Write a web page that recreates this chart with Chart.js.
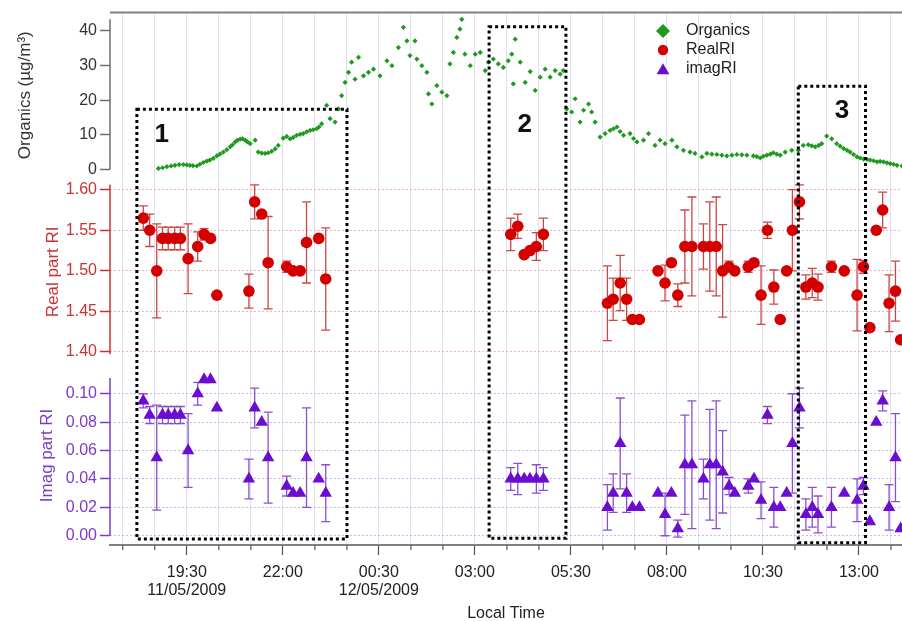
<!DOCTYPE html>
<html>
<head>
<meta charset="utf-8">
<title>Organics and refractive index</title>
<script src="https://cdn.jsdelivr.net/npm/chart.js@4.4.0/dist/chart.umd.min.js"></script>
<style>
  html, body { margin: 0; padding: 0; background: #fff; }
  #wrap { width: 902px; height: 621px; }
</style>
</head>
<body>
<div id="wrap"><canvas id="riChart" width="902" height="621"></canvas></div>
<script>
// ---- data ----
// organics time is in hours from 00:00 on 11/05/2009 (values > 24 are the next day)
const orgTime = [
  18.76, 18.87, 18.98, 19.09, 19.19, 19.30, 19.41, 19.50, 19.58, 19.66, 19.76, 19.84, 19.93, 20.02, 20.10, 20.19, 20.28, 20.36, 20.45, 20.54,
  20.63, 20.69, 20.76, 20.82, 20.89, 20.95, 21.02, 21.08, 21.15, 21.28, 21.36, 21.45, 21.54, 21.62, 21.71, 21.80, 21.88, 22.01, 22.10, 22.19,
  22.27, 22.36, 22.45, 22.53, 22.62, 22.71, 22.79, 22.88, 22.94, 23.01, 23.14, 23.23, 23.36, 23.45, 23.53, 23.62, 23.71, 23.79, 23.88, 23.97,
  24.10, 24.23, 24.36, 24.53, 24.71, 24.84, 25.01, 25.14, 25.23, 25.31, 25.44, 25.49, 25.62, 25.75, 25.79, 25.88, 26.01, 26.14, 26.27, 26.35,
  26.44, 26.53, 26.61, 26.66, 26.74, 26.88, 27.01, 27.14, 27.27, 27.35, 27.48, 27.61, 27.74, 27.87, 27.96, 28.00, 28.05, 28.18, 28.31, 28.44,
  28.57, 28.70, 28.83, 28.96, 29.09, 29.22, 29.30, 29.39, 29.52, 29.61, 29.74, 29.83, 29.96, 30.04, 30.13, 30.26, 30.39, 30.52, 30.61, 30.70,
  30.78, 30.87, 31.04, 31.13, 31.22, 31.39, 31.52, 31.69, 31.82, 31.95, 32.13, 32.26, 32.43, 32.60, 32.73, 32.91, 33.04, 33.17, 33.30, 33.43,
  33.56, 33.69, 33.82, 33.95, 34.08, 34.25, 34.34, 34.43, 34.51, 34.60, 34.69, 34.77, 34.86, 34.95, 35.08, 35.25, 35.42, 35.55, 35.68, 35.77,
  35.86, 35.95, 36.03, 36.16, 36.29, 36.42, 36.51, 36.60, 36.69, 36.77, 36.86, 36.95, 37.03, 37.12, 37.21, 37.29, 37.38, 37.47, 37.55, 37.64,
  37.73, 37.81, 37.90, 37.99, 38.12
];
const orgValue = [
  0.4, 0.6, 0.9, 1.1, 1.3, 1.5, 1.5, 1.4, 1.3, 1.2, 1.1, 1.6, 2.1, 2.5, 2.8, 3.3, 4.0, 4.5, 5.1, 5.8,
  6.6, 7.2, 8.0, 8.5, 8.8, 8.9, 8.5, 8.0, 7.5, 8.5, 5.1, 4.8, 4.7, 4.9, 5.3, 6.0, 7.0, 9.1, 9.6, 8.9,
  9.3, 9.9, 10.2, 10.4, 10.9, 11.3, 11.5, 11.8, 12.3, 13.2, 18.5, 14.7, 13.7, 17.5, 21.3, 25.1, 28.0, 30.9, 26.0, 32.3,
  27.0, 28.0, 28.9, 27.0, 31.3, 29.9, 35.1, 40.9, 37.0, 32.8, 37.0, 31.8, 29.9, 28.0, 21.8, 18.9, 24.2, 22.3, 21.3, 30.4,
  33.7, 38.0, 40.4, 43.2, 33.2, 29.9, 33.2, 33.7, 28.5, 30.9, 31.8, 30.4, 29.4, 31.3, 33.2, 24.7, 37.5, 30.9, 25.1, 28.2,
  22.8, 26.6, 28.9, 26.6, 28.5, 27.5, 28.5, 17.5, 16.6, 20.4, 13.7, 17.1, 18.9, 16.6, 13.7, 9.4, 10.4, 11.3, 11.8, 12.3,
  11.0, 9.9, 10.4, 9.0, 8.0, 8.5, 10.4, 7.0, 8.5, 7.5, 8.5, 6.6, 5.6, 5.1, 4.7, 3.7, 4.7, 4.5, 4.4, 4.2,
  4.0, 4.2, 4.4, 4.3, 4.2, 4.0, 3.8, 3.4, 3.9, 4.2, 4.5, 4.9, 4.5, 4.2, 5.1, 5.6, 5.6, 7.0, 7.2, 6.9,
  6.6, 7.0, 7.5, 9.7, 8.9, 7.5, 6.8, 6.1, 5.6, 5.1, 4.4, 3.7, 3.4, 3.1, 3.0, 2.8, 2.6, 2.3, 2.4, 2.3,
  2.0, 1.8, 1.6, 1.3, 1.1
];

// refractive index retrievals (local time, 11/05 evening then 12/05)
const riTime = [
  '18:22', '18:32', '18:43', '18:52', '19:01', '19:11', '19:20', '19:32', '19:47', '19:57', '20:07',
  '20:17', '21:07', '21:16', '21:27', '21:37', '22:06', '22:16', '22:27', '22:37', '22:56', '23:07',
  '03:56', '04:07', '04:17', '04:26', '04:36', '04:47',
  '06:27', '06:36', '06:47', '06:57', '07:06', '07:17', '07:46', '07:57', '08:07', '08:17',
  '08:28', '08:39', '08:57', '09:07', '09:17', '09:27', '09:37', '09:46', '10:07', '10:16',
  '10:27', '10:37', '10:47', '10:57', '11:07', '11:16', '11:27', '11:37', '11:47', '11:56',
  '12:17', '12:37', '12:57', '13:07', '13:17', '13:27', '13:37', '13:47', '13:57', '14:05'
];
const realRI = [
  1.565, 1.55, 1.50, 1.54, 1.54, 1.54, 1.54, 1.515, 1.53, 1.545, 1.54,
  1.47, 1.475, 1.585, 1.57, 1.51, 1.505, 1.50, 1.50, 1.535, 1.54, 1.49,
  1.545, 1.555, 1.52, 1.525, 1.53, 1.545,
  1.46, 1.465, 1.485, 1.465, 1.44, 1.44, 1.50, 1.485, 1.51, 1.47,
  1.53, 1.53, 1.53, 1.53, 1.53, 1.50, 1.505, 1.50, 1.505, 1.51,
  1.47, 1.55, 1.48, 1.44, 1.50, 1.55, 1.585, 1.48, 1.485, 1.48,
  1.505, 1.50, 1.47, 1.505, 1.43, 1.55, 1.575, 1.46, 1.475, 1.415
];
const realErr = [
  0.015, 0.02, 0.058, 0.014, 0.014, 0.014, 0.014, 0.043, 0.018, 0.007, 0,
  0, 0.021, 0.021, 0, 0.057, 0.007, 0, 0, 0.05, 0, 0.063,
  0.02, 0.015, 0, 0, 0.017, 0.02,
  0.046, 0.026, 0.034, 0.026, 0, 0, 0, 0.022, 0, 0.014,
  0.045, 0.061, 0.028, 0.055, 0.061, 0.057, 0.007, 0, 0.007, 0,
  0.036, 0.01, 0.021, 0, 0, 0.05, 0.021, 0.015, 0.018, 0.016,
  0.007, 0, 0.044, 0.008, 0, 0, 0.022, 0.035, 0.037, 0
];
const imagRI = [
  0.095, 0.085, 0.055, 0.085, 0.085, 0.085, 0.085, 0.06, 0.10, 0.11, 0.11,
  0.09, 0.04, 0.09, 0.08, 0.055, 0.035, 0.03, 0.03, 0.055, 0.04, 0.03,
  0.04, 0.04, 0.04, 0.04, 0.04, 0.04,
  0.02, 0.03, 0.065, 0.03, 0.02, 0.02, 0.03, 0.015, 0.03, 0.005,
  0.05, 0.05, 0.04, 0.05, 0.05, 0.045, 0.035, 0.03, 0.035, 0.04,
  0.025, 0.085, 0.02, 0.02, 0.03, 0.065, 0.09, 0.015, 0.02, 0.015,
  0.02, 0.03, 0.025, 0.035, 0.01, 0.08, 0.095, 0.02, 0.055, 0.005
];
const imagErr = [
  0.005, 0.006, 0.037, 0.006, 0.006, 0.006, 0.006, 0.026, 0.008, 0, 0,
  0, 0.014, 0.014, 0, 0.032, 0.007, 0, 0, 0.035, 0, 0.02,
  0.008, 0.011, 0, 0, 0.01, 0.008,
  0.016, 0.0135, 0.032, 0.0135, 0, 0, 0, 0.015, 0, 0.006,
  0.035, 0.045, 0.014, 0.039, 0.045, 0.029, 0.006, 0, 0.005, 0,
  0.013, 0.006, 0.014, 0, 0, 0.035, 0.014, 0.011, 0.014, 0.013,
  0.014, 0, 0.015, 0.006, 0, 0, 0.007, 0.016, 0.031, 0
];

// axis ticks
const xMajorHours = [19.5, 22, 24.5, 27, 29.5, 32, 34.5, 37];
const xMajorLabels = [['19:30', '11/05/2009'], '22:00', ['00:30', '12/05/2009'], '03:00', '05:30', '08:00', '10:30', '13:00'];
const orgTicks = [0, 10, 20, 30, 40];
const realTicks = [1.40, 1.45, 1.50, 1.55, 1.60];
const imagTicks = [0, 0.02, 0.04, 0.06, 0.08, 0.10];

// numbered periods (x in hours, top in organics units, bottom in imag units)
const periods = [
  { label: '1', from: 18.20, to: 23.67, top: 17.4, bottom: -0.0023, labelX: 18.85, labelY: 10.0 },
  { label: '2', from: 27.37, to: 29.37, top: 41.1, bottom: -0.0018, labelX: 28.30, labelY: 12.9 },
  { label: '3', from: 35.42, to: 37.17, top: 24.0, bottom: -0.0049, labelX: 36.56, labelY: 16.9 }
];

// ---- styling ----
const FONT = '"Liberation Sans", Arial, sans-serif';
const GREEN = '#1f9a1f';
const RED = '#d40000', RED_BAR = '#cc4646', RED_TEXT = '#c83232';
const PURPLE = '#6a0dd0', PURPLE_BAR = '#8a4fd0', PURPLE_TEXT = '#7a3cc8';
const AXIS_GREY = '#6e6e6e';

Chart.defaults.font.family = FONT;
Chart.defaults.font.size = 16;
Chart.defaults.color = '#222';

function toHours(hhmm) {
  const [h, m] = hhmm.split(':').map(Number);
  const t = h + m / 60;
  return h < 17 ? t + 24 : t;   // after midnight -> 12/05
}

const riHours = riTime.map(toHours);
const STEP = 5 / 6;  // grid every 50 minutes, 3 per labelled tick
const isMajor = v => xMajorHours.some(m => Math.abs(m - v) < 1e-6);

function fixedTicks(list) {
  return scale => { scale.ticks = list.map(v => ({ value: v })); };
}

function drawMarker(ctx, style, x, y, r, color) {
  ctx.fillStyle = color;
  ctx.beginPath();
  if (style === 'rectRot') {
    ctx.moveTo(x - r, y); ctx.lineTo(x, y - r); ctx.lineTo(x + r, y); ctx.lineTo(x, y + r);
  } else if (style === 'triangle') {
    ctx.moveTo(x, y - r);
    ctx.lineTo(x + 0.866 * r, y + 0.5 * r);
    ctx.lineTo(x - 0.866 * r, y + 0.5 * r);
  } else {
    ctx.arc(x, y, r, 0, Math.PI * 2);
  }
  ctx.closePath();
  ctx.fill();
}

const decorPlugin = {
  id: 'decor',
  beforeDatasetsDraw(chart) {
    const { ctx, chartArea: area, scales } = chart;
    ctx.save();
    // axis spines of the three panels
    [['yOrg', [0, 43.2], AXIS_GREY], ['yReal', [1.397, 1.606], RED_TEXT], ['yImag', [0, 0.111], PURPLE_TEXT]].forEach(([id, span, color]) => {
      const s = scales[id];
      ctx.strokeStyle = color;
      ctx.lineWidth = 1.5;
      ctx.beginPath();
      ctx.moveTo(area.left, s.getPixelForValue(span[0]));
      ctx.lineTo(area.left, s.getPixelForValue(span[1]));
      ctx.stroke();
    });
    // error bars
    ctx.beginPath();
    ctx.rect(area.left, area.top, area.right - area.left, area.bottom - area.top);
    ctx.clip();
    chart.data.datasets.forEach(ds => {
      if (!ds.errors) return;
      const ys = scales[ds.yAxisID];
      ctx.strokeStyle = ds.errorColor;
      ctx.lineWidth = 1.3;
      ds.data.forEach((p, i) => {
        const e = ds.errors[i];
        if (!e) return;
        const x = scales.x.getPixelForValue(p.x);
        const y1 = ys.getPixelForValue(p.y + e);
        const y2 = ys.getPixelForValue(p.y - e);
        ctx.beginPath();
        ctx.moveTo(x, y1); ctx.lineTo(x, y2);
        ctx.moveTo(x - 4.5, y1); ctx.lineTo(x + 4.5, y1);
        ctx.moveTo(x - 4.5, y2); ctx.lineTo(x + 4.5, y2);
        ctx.stroke();
      });
    });
    ctx.restore();
  },
  afterDatasetsDraw(chart) {
    const { ctx, chartArea: area, scales } = chart;
    ctx.save();
    // top frame line
    ctx.strokeStyle = '#808080';
    ctx.lineWidth = 2;
    ctx.beginPath();
    ctx.moveTo(area.left, area.top);
    ctx.lineTo(area.right, area.top);
    ctx.stroke();

    // short minor ticks under the time axis
    ctx.strokeStyle = '#555';
    ctx.lineWidth = 1.2;
    scales.x.ticks.forEach(t => {
      if (isMajor(t.value)) return;
      const x = scales.x.getPixelForValue(t.value);
      ctx.beginPath();
      ctx.moveTo(x, area.bottom);
      ctx.lineTo(x, area.bottom + 5);
      ctx.stroke();
    });

    // dotted period boxes with their numbers
    periods.forEach(p => {
      const x1 = scales.x.getPixelForValue(p.from);
      const x2 = scales.x.getPixelForValue(p.to);
      const y1 = scales.yOrg.getPixelForValue(p.top);
      const y2 = scales.yImag.getPixelForValue(p.bottom);
      ctx.strokeStyle = '#000';
      ctx.lineWidth = 3;
      ctx.setLineDash([3, 3]);
      ctx.strokeRect(x1, y1, x2 - x1, y2 - y1);
      ctx.setLineDash([]);
      ctx.fillStyle = '#111';
      ctx.font = 'bold 26px ' + FONT;
      ctx.textAlign = 'center';
      ctx.textBaseline = 'middle';
      ctx.fillText(p.label, scales.x.getPixelForValue(p.labelX), scales.yOrg.getPixelForValue(p.labelY));
    });

    // legend
    const sizes = { rectRot: 7, circle: 5.2, triangle: 7.3 };
    ctx.font = '16px ' + FONT;
    ctx.textAlign = 'left';
    ctx.textBaseline = 'middle';
    chart.data.datasets.forEach((ds, i) => {
      const y = 31 + i * 19;
      drawMarker(ctx, ds.pointStyle, 663, y + (ds.pointStyle === 'triangle' ? 1.5 : 0), sizes[ds.pointStyle], ds.backgroundColor);
      ctx.fillStyle = '#222';
      ctx.fillText(ds.label, 686, y);
    });
    ctx.restore();
  }
};

new Chart(document.getElementById('riChart'), {
  type: 'scatter',
  data: {
    datasets: [
      {
        label: 'Organics',
        data: orgTime.map((t, i) => ({ x: t, y: orgValue[i] })),
        yAxisID: 'yOrg',
        pointStyle: 'rectRot',
        pointRadius: 2.6,
        borderWidth: 0,
        backgroundColor: GREEN,
        borderColor: GREEN
      },
      {
        label: 'RealRI',
        data: riHours.map((t, i) => ({ x: t, y: realRI[i] })),
        errors: realErr,
        errorColor: RED_BAR,
        yAxisID: 'yReal',
        pointStyle: 'circle',
        pointRadius: 5.8,
        borderWidth: 0,
        backgroundColor: RED,
        borderColor: RED
      },
      {
        label: 'imagRI',
        data: riHours.map((t, i) => ({ x: t, y: imagRI[i] })),
        errors: imagErr,
        errorColor: PURPLE_BAR,
        yAxisID: 'yImag',
        pointStyle: 'triangle',
        pointRadius: 7.2,
        borderWidth: 0,
        backgroundColor: PURPLE,
        borderColor: PURPLE
      }
    ]
  },
  options: {
    responsive: false,
    devicePixelRatio: 1,
    animation: false,
    events: [],
    layout: { autoPadding: false, padding: { top: 10, right: 0, bottom: 0, left: 0 } },
    plugins: { legend: { display: false }, tooltip: { enabled: false } },
    scales: {
      x: {
        type: 'linear',
        position: 'bottom',
        min: 17.5,
        max: 38.12,
        afterBuildTicks: scale => {
          const ticks = [];
          for (let v = xMajorHours[0] - 2 * STEP; v <= scale.max; v += STEP) ticks.push({ value: +v.toFixed(6) });
          scale.ticks = ticks;
        },
        afterFit: scale => { scale.height = 76; },
        grid: {
          color: 'rgba(205,205,228,0.6)',
          lineWidth: 1,
          tickLength: 10,
          tickWidth: 1.2,
          tickColor: c => (c.tick && isMajor(c.tick.value)) ? '#555' : 'rgba(0,0,0,0)'
        },
        border: { display: true, color: '#808080', width: 2 },
        ticks: {
          autoSkip: false,
          maxRotation: 0,
          padding: 9,
          color: '#222',
          font: { size: 16, lineHeight: 1.1 },
          callback: value => {
            const k = xMajorHours.findIndex(m => Math.abs(m - value) < 1e-6);
            return k < 0 ? '' : xMajorLabels[k];
          }
        },
        title: { display: true, text: 'Local Time', color: '#222', font: { size: 16 }, padding: { top: 0, bottom: -2 } }
      },
      yImag: {
        type: 'linear',
        position: 'left',
        stack: 'panels',
        stackWeight: 180,
        min: -0.00652,
        max: 0.11962,
        afterBuildTicks: fixedTicks(imagTicks),
        afterFit: scale => { scale.width = 110; },
        grid: { color: 'rgba(175,155,228,0.7)', tickColor: PURPLE_TEXT, tickLength: 10, tickWidth: 1.5 },
        border: { display: false, dash: [2, 2] },
        ticks: { autoSkip: false, color: PURPLE_TEXT, padding: 3, callback: v => v.toFixed(2) },
        title: { display: true, text: 'Imag part RI', color: PURPLE_TEXT, font: { size: 17 }, padding: { top: 37, bottom: 0 } }
      },
      yReal: {
        type: 'linear',
        position: 'left',
        stack: 'panels',
        stackWeight: 189,
        min: 1.38282,
        max: 1.6147,
        afterBuildTicks: fixedTicks(realTicks),
        afterFit: scale => { scale.width = 110; },
        grid: { color: 'rgba(228,150,160,0.7)', tickColor: RED_TEXT, tickLength: 10, tickWidth: 1.5 },
        border: { display: false, dash: [2, 2] },
        ticks: { autoSkip: false, color: RED_TEXT, padding: 3, callback: v => v.toFixed(2) },
        title: { display: true, text: 'Real part RI', color: RED_TEXT, font: { size: 17 }, padding: { top: 43, bottom: 0 } }
      },
      yOrg: {
        type: 'linear',
        position: 'left',
        stack: 'panels',
        stackWeight: 166,
        min: -2.286,
        max: 45.14,
        afterBuildTicks: fixedTicks(orgTicks),
        afterFit: scale => { scale.width = 110; },
        grid: { drawOnChartArea: false, tickColor: AXIS_GREY, tickLength: 10, tickWidth: 1.5 },
        border: { display: false },
        ticks: { autoSkip: false, color: '#333', padding: 3 },
        title: { display: true, text: 'Organics (µg/m³)', color: '#333', font: { size: 17 }, padding: { top: 15, bottom: 0 } }
      }
    }
  },
  plugins: [decorPlugin]
});
</script>
</body>
</html>
